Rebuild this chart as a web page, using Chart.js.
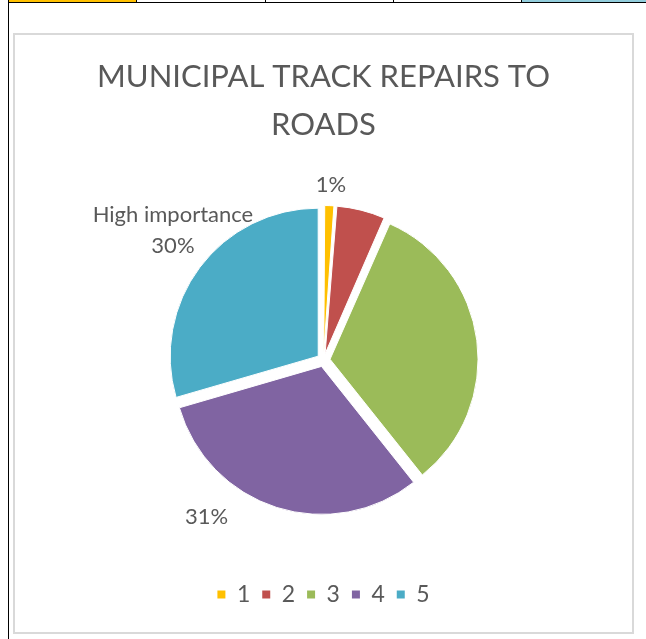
<!DOCTYPE html>
<html>
<head>
<meta charset="utf-8">
<script src="https://cdn.jsdelivr.net/npm/chart.js@4.4.1/dist/chart.umd.min.js"></script>
<style>
  html, body { margin: 0; padding: 0; background: #fff; }
  body { width: 646px; height: 639px; position: relative; overflow: hidden; }
  .abs { position: absolute; }
  #box { position: absolute; left: 13px; top: 33px; width: 617px; height: 597px; border: 2px solid #d9d9d9; }
  #c { position: absolute; left: 0; top: 0; }
</style>
</head>
<body>
<!-- spreadsheet grid fragments -->
<div class="abs" style="left:9px;top:0;width:127px;height:2px;background:#ffc000"></div>
<div class="abs" style="left:522px;top:0;width:124px;height:2px;background:#92cddc"></div>
<div class="abs" style="left:8px;top:2px;width:638px;height:1px;background:#000"></div>
<div class="abs" style="left:8px;top:0;width:1px;height:639px;background:#000"></div>
<div class="abs" style="left:136px;top:0;width:1px;height:3px;background:#000"></div>
<div class="abs" style="left:265px;top:0;width:1px;height:3px;background:#000"></div>
<div class="abs" style="left:393px;top:0;width:1px;height:3px;background:#000"></div>
<div class="abs" style="left:521px;top:0;width:1px;height:3px;background:#000"></div>

<div id="box"><canvas id="c" width="617" height="597"></canvas></div>

<script>
// ---- data ----
const categories = ['1', '2', '3', '4', '5'];
const shares = [1.2, 5.4, 32.7, 31.2, 29.5];
const labelNames = ['', '', '', '', 'High importance'];
const labelShown = [true, false, false, true, true];
const titleLines = ['MUNICIPAL TRACK REPAIRS TO', 'ROADS'];

// ---- styles ----
const sliceColors = ['#FFC000', '#C0504D', '#9BBB59', '#8064A2', '#4BACC6'];
const textColor = '#595959';
const fontFamily = 'Lato, "Open Sans", sans-serif';
const explodeOffset = 26.4;  // Chart.js translates arcs by offset/4
const labelPlace = [
  { turn: 0.3, gap: 27.7 },
  null, null,
  { turn: 19, gap: 48 },
  { turn: 3.8, gap: 50.6 }
];

const total = shares.reduce((a, b) => a + b, 0);

// keep exploded slices at a common radius (Chart.js enlarges thin offset slices)
const radiusFix = {
  id: 'radiusFix',
  beforeDatasetsDraw(chart) {
    const meta = chart.getDatasetMeta(0);
    const R = meta.controller.outerRadius;
    meta.data.forEach(arc => {
      const off = (arc.options.offset || 0) / 4;
      const fix = 1 - Math.sin(Math.min(Math.PI, arc.circumference || 0));
      arc.outerRadius = R - off * fix;
    });
  }
};

const sliceLabels = {
  id: 'sliceLabels',
  afterDatasetsDraw(chart) {
    const ctx = chart.ctx;
    const meta = chart.getDatasetMeta(0);
    const R = meta.controller.outerRadius;
    meta.data.forEach((arc, i) => {
      if (!labelShown[i]) return;
      const p = labelPlace[i];
      const pct = Math.round(shares[i] / total * 100) + '%';
      const lines = labelNames[i] ? [labelNames[i], pct] : [pct];
      const mid = (arc.startAngle + arc.endAngle) / 2 + p.turn * Math.PI / 180;
      const r = R + p.gap;
      const cx = arc.x + Math.cos(mid) * r;
      const cy = arc.y + Math.sin(mid) * r;
      const lh = 31;
      ctx.save();
      ctx.font = '22px ' + fontFamily;
      ctx.fillStyle = textColor;
      ctx.textAlign = 'center';
      ctx.textBaseline = 'middle';
      lines.forEach((ln, k) => {
        ctx.fillText(ln, cx, cy + (k - (lines.length - 1) / 2) * lh);
      });
      ctx.restore();
    });
  }
};

new Chart(document.getElementById('c'), {
  type: 'pie',
  data: {
    labels: categories,
    datasets: [{
      data: shares,
      backgroundColor: sliceColors,
      borderColor: '#ffffff',
      borderWidth: 1,
      offset: explodeOffset,
      hoverOffset: explodeOffset,
      radius: 148
    }]
  },
  options: {
    responsive: false,
    animation: false,
    events: [],
    layout: { padding: { top: 0, bottom: 16, left: 0, right: 0 } },
    plugins: {
      title: {
        display: true,
        text: titleLines,
        color: textColor,
        font: { family: fontFamily, size: 31, weight: 'normal', lineHeight: '47.5px' },
        padding: { top: 18.25, bottom: 1 }
      },
      legend: {
        position: 'bottom',
        labels: {
          color: textColor,
          font: { family: fontFamily, size: 23 },
          boxWidth: 8,
          boxHeight: 8,
          padding: 12,
          generateLabels(chart) {
            const items = Chart.overrides.pie.plugins.legend.labels.generateLabels(chart);
            return items.map(it => Object.assign(it, { lineWidth: 0 }));
          }
        }
      },
      tooltip: { enabled: false }
    }
  },
  plugins: [radiusFix, sliceLabels]
});
</script>
</body>
</html>
